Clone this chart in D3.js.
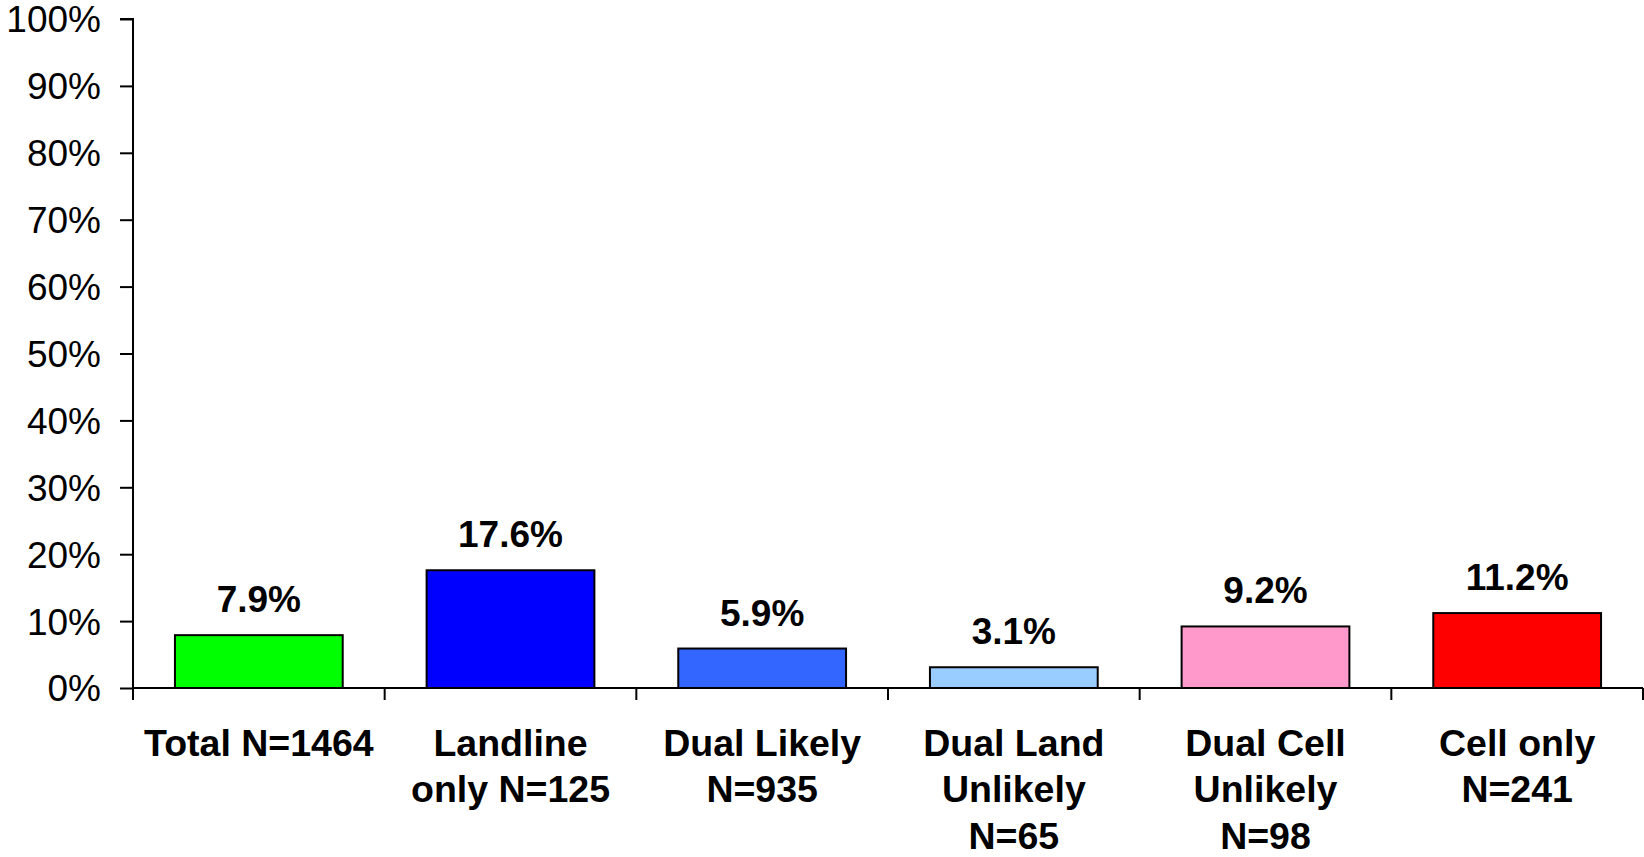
<!DOCTYPE html>
<html>
<head>
<meta charset="utf-8">
<script src="https://cdn.jsdelivr.net/npm/d3@7/dist/d3.min.js"></script>
<style>
  html, body { margin: 0; padding: 0; background: #fff; overflow: hidden; }
  svg { display: block; font-family: "Liberation Sans", Arial, sans-serif; }
</style>
</head>
<body>
<svg id="chart" width="1644" height="857"></svg>
<script>
const categories = ["Total N=1464", "Landline only N=125", "Dual Likely N=935", "Dual Land Unlikely N=65", "Dual Cell Unlikely N=98", "Cell only N=241"];
const categoryLines = [
  ["Total N=1464"],
  ["Landline", "only N=125"],
  ["Dual Likely", "N=935"],
  ["Dual Land", "Unlikely", "N=65"],
  ["Dual Cell", "Unlikely", "N=98"],
  ["Cell only", "N=241"]
];
const values = [7.9, 17.6, 5.9, 3.1, 9.2, 11.2];
const colors = ["#00FF00", "#0000FF", "#3366FF", "#99CCFF", "#FF99CC", "#FF0000"];
const yTicks = [0, 10, 20, 30, 40, 50, 60, 70, 80, 90, 100];

const svg = d3.select("#chart");
const mLeft = 133, mRight = 1643, mTop = 19, mBottom = 688;

const x = d3.scaleBand().domain(categories).range([mLeft, mRight]).padding(0);
const y = d3.scaleLinear().domain([0, 100]).range([mBottom, mTop]);

// Y axis
const yAxis = svg.append("g")
  .attr("transform", `translate(${mLeft},0)`)
  .call(d3.axisLeft(y).tickValues(yTicks).tickFormat(d => d + "%").tickSize(13).tickPadding(19));
yAxis.select(".domain").attr("stroke", "#000").attr("stroke-width", 2)
  .attr("d", `M-13,${mTop}H0V${mBottom + 12}`);
yAxis.selectAll(".tick line").attr("stroke", "#000").attr("stroke-width", 2);
yAxis.selectAll(".tick text").attr("font-size", 37).attr("fill", "#000")
  .attr("dy", "0.35em")
  .attr("font-family", "Liberation Sans, Arial, sans-serif");

// Bars
const bw = x.bandwidth();
svg.append("g").selectAll("rect")
  .data(values)
  .join("rect")
  .attr("x", (d, i) => x(categories[i]) + bw / 6)
  .attr("width", bw * 2 / 3)
  .attr("y", d => y(d))
  .attr("height", d => y(0) - y(d))
  .attr("fill", (d, i) => colors[i])
  .attr("stroke", "#000")
  .attr("stroke-width", 2);

// X axis line and category ticks
svg.append("line")
  .attr("x1", mLeft).attr("x2", mRight)
  .attr("y1", y(0)).attr("y2", y(0))
  .attr("stroke", "#000").attr("stroke-width", 2);
const boundaries = categories.map(c => x(c)).concat([x(categories[categories.length - 1]) + bw]);
svg.append("g").selectAll("line")
  .data(boundaries)
  .join("line")
  .attr("x1", d => d).attr("x2", d => d)
  .attr("y1", y(0)).attr("y2", y(0) + 12)
  .attr("stroke", "#000").attr("stroke-width", 2);

// Value labels
svg.append("g").selectAll("text")
  .data(values)
  .join("text")
  .attr("x", (d, i) => x(categories[i]) + bw / 2)
  .attr("y", d => y(d) - 23)
  .attr("text-anchor", "middle")
  .attr("font-size", 37)
  .attr("font-weight", "bold")
  .attr("fill", "#000")
  .text(d => d.toFixed(1) + "%");

// Category labels
const catG = svg.append("g");
categories.forEach((c, i) => {
  const t = catG.append("text")
    .attr("x", x(c) + bw / 2)
    .attr("y", 755.5)
    .attr("text-anchor", "middle")
    .attr("font-size", 37.5)
    .attr("font-weight", "bold")
    .attr("fill", "#000");
  categoryLines[i].forEach((line, j) => {
    t.append("tspan")
      .attr("x", x(c) + bw / 2)
      .attr("y", 755.5 + j * 46.5)
      .text(line);
  });
});
</script>
</body>
</html>
